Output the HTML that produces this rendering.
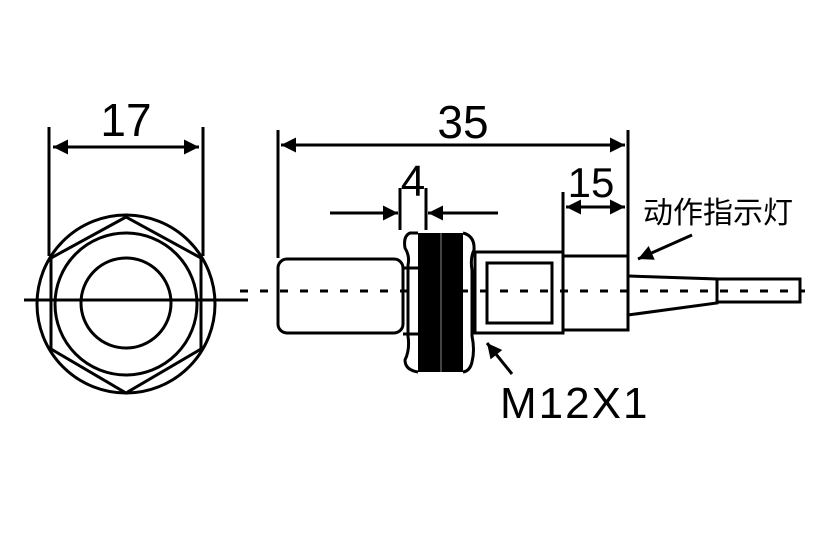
<!DOCTYPE html>
<html><head><meta charset="utf-8"><style>body{margin:0;background:#fff}svg{display:block}</style></head><body>
<svg width="827" height="557" viewBox="0 0 827 557" xmlns="http://www.w3.org/2000/svg">
<defs><marker id="a" viewBox="0 0 10 10" refX="10" refY="5" markerWidth="24" markerHeight="15" markerUnits="userSpaceOnUse" orient="auto-start-reverse"><path d="M0,0L10,5L0,10z" fill="#000"/></marker></defs>
<g fill="none" stroke="#000" stroke-width="3">
<circle cx="126" cy="304" r="89"/>
<polygon points="126,217 201,258 201,349 126,393 51,349 51,258"/>
<circle cx="126" cy="304" r="71"/>
<circle cx="126" cy="303" r="45"/>
<line x1="24" y1="300" x2="248" y2="300"/>
<line x1="49" y1="127" x2="49" y2="256"/>
<line x1="203" y1="127" x2="203" y2="256"/>
<line x1="53" y1="147" x2="199" y2="147" marker-start="url(#a)" marker-end="url(#a)"/>
<rect x="278" y="259" width="125" height="74" rx="9"/>
<line x1="403" y1="268" x2="418" y2="268"/><line x1="403" y1="334" x2="418" y2="334"/>
<path d="M418,233 L410,233 Q403,236 405,248 Q410,256 408,265 L408,336 Q410,350 405,360 Q405,370 418,372"/>
<path d="M463,233 Q475,236 474,250 Q470,258 472,270 L472,336 Q475,350 472,362 Q470,371 463,372"/>
<rect x="475" y="252" width="88" height="81"/>
<rect x="487" y="263" width="65" height="60"/>
<rect x="563" y="256" width="65" height="74"/>
<polyline points="628,276 717,279 717,303 628,315"/>
<rect x="717" y="279" width="83" height="23"/>
<line x1="278" y1="130" x2="278" y2="258"/>
<line x1="628" y1="130" x2="628" y2="256"/>
<line x1="281" y1="145" x2="625" y2="145" marker-start="url(#a)" marker-end="url(#a)"/>
<line x1="400" y1="188" x2="400" y2="230"/>
<line x1="426" y1="188" x2="426" y2="230"/>
<line x1="330" y1="213" x2="398" y2="213" marker-end="url(#a)"/>
<line x1="498" y1="213" x2="428" y2="213" marker-end="url(#a)"/>
<line x1="563" y1="192" x2="563" y2="255"/>
<line x1="566" y1="207" x2="625" y2="207" marker-start="url(#a)" marker-end="url(#a)"/>
<line x1="692" y1="235" x2="638" y2="259" marker-end="url(#a)"/>
<line x1="512" y1="374" x2="487" y2="343" marker-end="url(#a)"/>
<line x1="240" y1="291" x2="805" y2="291" stroke-dasharray="8 12"/>
</g>
<rect x="418" y="233" width="45" height="139" fill="#000"/>
<line x1="441" y1="233" x2="441" y2="372" stroke="#888" stroke-width="1"/>
<g font-family="Liberation Sans, sans-serif" fill="#000">
<text x="126" y="136" font-size="46" text-anchor="middle">17</text>
<text x="463" y="138" font-size="46" text-anchor="middle">35</text>
<text x="413" y="196" font-size="44" text-anchor="middle">4</text>
<text x="591" y="197" font-size="42" text-anchor="middle">15</text>
<text x="500" y="418" font-size="44" letter-spacing="2">M12X1</text>
<text x="643" y="223" font-size="30" font-family="Liberation Sans, 'Noto Sans CJK SC', sans-serif">动作指示灯</text>
</g>
</svg>
</body></html>
